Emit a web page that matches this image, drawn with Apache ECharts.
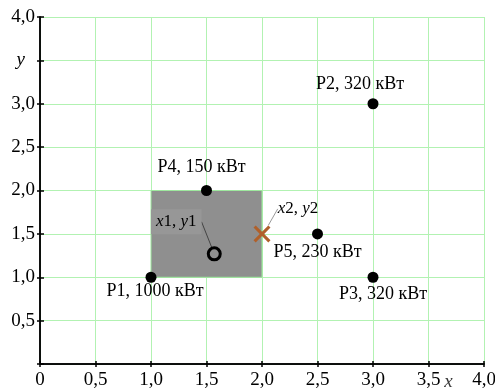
<!DOCTYPE html>
<html>
<head>
<meta charset="utf-8">
<script src="https://cdn.jsdelivr.net/npm/echarts@6/dist/echarts.min.js"></script>
<style>html,body{margin:0;padding:0;background:#fff;}#c{width:495px;height:392px;}</style>
</head>
<body>
<div id="c"></div>
<script>
// Data
var pointNames = ['P1, 1000 кВт', 'P2, 320 кВт', 'P3, 320 кВт', 'P4, 150 кВт', 'P5, 230 кВт'];
var pointX = [1.0, 3.0, 3.0, 1.5, 2.5];
var pointY = [1.0, 3.0, 1.0, 2.0, 1.5];
var rectX = [1.0, 2.0];
var rectY = [1.0, 2.0];
var center1 = [1.57, 1.27];
var center2 = [2.0, 1.5];
var xTicks = [0, 0.5, 1.0, 1.5, 2.0, 2.5, 3.0, 3.5, 4.0];
var yTicks = [0, 0.5, 1.0, 1.5, 2.0, 2.5, 3.0, 3.5, 4.0];
var xNamePos = [3.68, 0];

var FONT = '"Liberation Serif", "Times New Roman", serif';
var labelOffsets = [[4, 14], [-13, -19], [10, 17], [-5, -23], [0, 18]];

function fmt(v) {
  if (v === 0) return '0';
  return v.toFixed(1).replace('.', ',');
}

var chart = echarts.init(document.getElementById('c'), null, {renderer: 'canvas'});

var gridColor = '#b2f2b2';
var axisCommon = {
  type: 'value', min: 0, max: 4, interval: 0.5
};

var option = {
  animation: false,
  backgroundColor: '#fff',
  grid: {left: 40, right: 11, top: 17, bottom: 28, containLabel: false, outerBoundsMode: 'none'},
  xAxis: [
    Object.assign({}, axisCommon, {
      position: 'bottom',
      axisLine: {show: true, onZero: false, lineStyle: {color: '#000', width: 1.5}},
      axisTick: {show: true, length: 3, lineStyle: {color: '#000', width: 1.5}},
      axisLabel: {
        color: '#000', fontFamily: FONT, fontSize: 19, margin: 7,
        formatter: function (v) { return fmt(v); }
      },
      splitLine: {show: true, lineStyle: {color: gridColor, width: 1}}
    }),
    Object.assign({}, axisCommon, {
      position: 'top',
      axisLine: {show: true, onZero: true, lineStyle: {color: '#000', width: 1.5}},
      axisTick: {show: true, length: 3, lineStyle: {color: '#000', width: 1.5}},
      axisLabel: {show: false},
      splitLine: {show: false}
    })
  ],
  yAxis: [
    Object.assign({}, axisCommon, {
      position: 'left',
      axisLine: {show: true, onZero: false, lineStyle: {color: '#000', width: 1.5}},
      axisTick: {show: true, length: 3, lineStyle: {color: '#000', width: 1.5}},
      axisLabel: {
        color: '#000', fontFamily: FONT, fontSize: 19, margin: 5,
        formatter: function (v) {
          if (v === 0) return '';
          if (v === 3.5) return '{i|y}';
          return fmt(v);
        },
        rich: {i: {fontStyle: 'italic', fontFamily: FONT, fontSize: 19, color: '#000', padding: [0, 10, 0, 0]}}
      },
      splitLine: {show: true, lineStyle: {color: gridColor, width: 1}}
    }),
    Object.assign({}, axisCommon, {
      position: 'right',
      axisLine: {show: true, onZero: true, lineStyle: {color: '#000', width: 1.5}},
      axisTick: {show: true, length: 4, lineStyle: {color: '#000', width: 1.5}},
      axisLabel: {show: false},
      splitLine: {show: false}
    })
  ],
  series: [
    {
      name: 'points',
      type: 'scatter',
      z: 5,
      symbol: 'circle',
      symbolSize: 11,
      itemStyle: {color: '#000', opacity: 1},
      data: pointX.map(function (x, i) {
        return {
          value: [x, pointY[i]],
          label: {
            show: true, position: 'inside', offset: labelOffsets[i],
            formatter: pointNames[i], color: '#000',
            fontFamily: FONT, fontSize: 18
          }
        };
      }),
      markArea: {
        silent: true,
        z: 1,
        itemStyle: {color: '#8f8f8f', borderColor: '#9ee89e', borderWidth: 1, opacity: 1},
        data: [[{xAxis: rectX[0], yAxis: rectY[0]}, {xAxis: rectX[1], yAxis: rectY[1]}]]
      }
    },
    {
      name: 'c1',
      type: 'scatter',
      z: 6,
      symbol: 'circle',
      symbolSize: 12,
      itemStyle: {color: '#8f8f8f', borderColor: '#000', borderWidth: 3, opacity: 1},
      data: [center1],
      label: {
        show: true, position: 'inside', color: '#000',
        fontFamily: FONT, fontSize: 17,
        formatter: '{i|x}1, {i|y}1',
        backgroundColor: '#979797',
        padding: [4, 5, 4, 5],
        rich: {i: {fontStyle: 'italic', fontFamily: FONT, fontSize: 17, color: '#000'}}
      },
      labelLayout: {dx: -38, dy: -32},
      labelLine: {show: true, lineStyle: {color: '#444', width: 1}}
    },
    {
      name: 'c2',
      type: 'scatter',
      z: 6,
      symbol: 'path://M0,1.3L1.3,0L5,3.7L8.7,0L10,1.3L6.3,5L10,8.7L8.7,10L5,6.3L1.3,10L0,8.7L3.7,5Z',
      symbolSize: 17,
      itemStyle: {color: '#b0602a', opacity: 1},
      data: [center2],
      label: {
        show: true, position: 'inside', color: '#000',
        fontFamily: FONT, fontSize: 17,
        formatter: '{i|x}2, {i|y}2',
        rich: {i: {fontStyle: 'italic', fontFamily: FONT, fontSize: 17, color: '#000'}}
      },
      labelLayout: {dx: 36, dy: -25},
      labelLine: {show: true, lineStyle: {color: '#999', width: 1}}
    },
    {
      name: 'xname',
      type: 'scatter',
      symbolSize: 0,
      silent: true,
      data: [xNamePos],
      label: {
        show: true, position: 'inside', offset: [0, 18],
        formatter: 'x', color: '#000', fontStyle: 'italic',
        fontFamily: FONT, fontSize: 19
      }
    }
  ]
};
chart.setOption(option);
</script>
</body>
</html>
